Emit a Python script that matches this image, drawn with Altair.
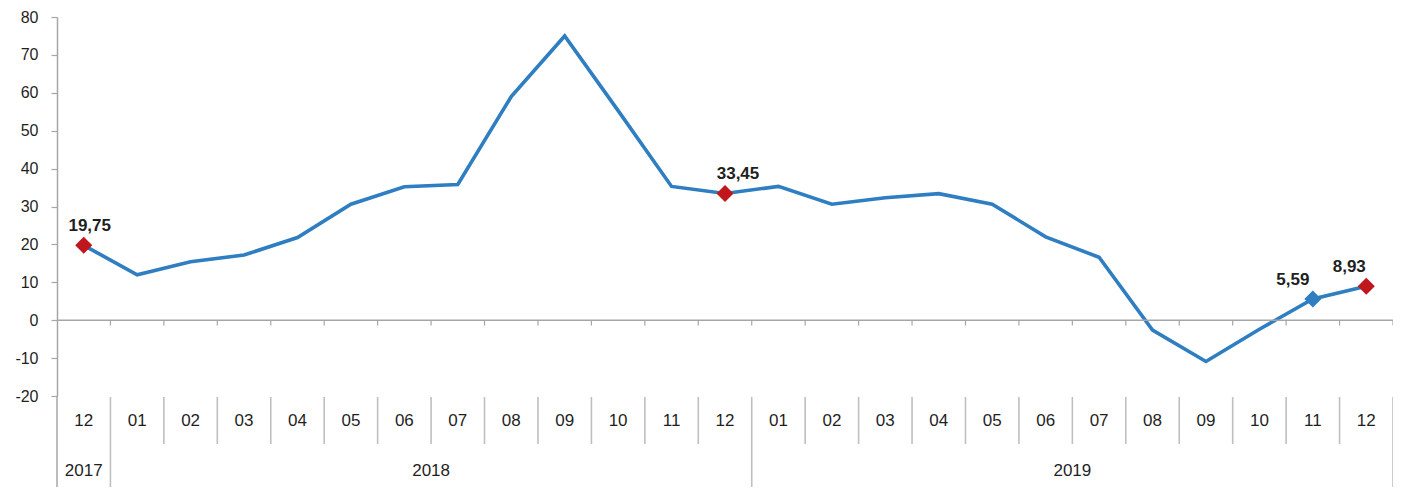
import altair as alt
import pandas as pd

# ---- data ----
months = ["12", "01", "02", "03", "04", "05", "06", "07", "08", "09", "10", "11", "12",
          "01", "02", "03", "04", "05", "06", "07", "08", "09", "10", "11", "12"]
years = ["2017"] + ["2018"] * 12 + ["2019"] * 12
values = [19.75, 12.0, 15.4, 17.2, 21.8, 30.6, 35.2, 35.8, 59.0, 75.0, 55.3, 35.3, 33.45,
          35.3, 30.6, 32.3, 33.4, 30.6, 22.0, 16.6, -2.6, -10.9, -2.4, 5.59, 8.93]
label_text = ["19,75", "", "", "", "", "", "", "", "", "", "", "", "33,45",
              "", "", "", "", "", "", "", "", "", "", "5,59", "8,93"]
marker_color = ["red", "", "", "", "", "", "", "", "", "", "", "", "red",
                "", "", "", "", "", "", "", "", "", "", "blue", "red"]
year_names = ["2017", "2018", "2019"]

# label offsets (style only, pixels)
label_dx = {"19,75": 6, "33,45": 13, "5,59": -20, "8,93": -17}

W, H = 1336, 379
FONT = "Liberation Sans"
BLUE = "#2E7EC1"
RED = "#C0161D"
GRAY = "#A6A6A6"
SEP = "#BFBFBF"
TXT = "#1F1F1F"

n = len(months)
df = pd.DataFrame({"i": list(range(n)), "month": months, "year": years, "value": values,
                   "label": label_text, "mc": marker_color})
pts = df[df["mc"] != ""]

yr_rows = []
for y in year_names:
    idxs = [k for k in range(n) if years[k] == y]
    yr_rows.append({"year": y, "c": (idxs[0] + idxs[-1]) / 2, "end": idxs[-1] + 0.5})
yrs = pd.DataFrame(yr_rows)
bounds = pd.DataFrame({"b": [k + 0.5 for k in range(n)], "z0": 0.0, "z1": -1.4})
month_bounds = pd.DataFrame({"b": [k + 0.5 for k in range(n - 1) if years[k] == years[k + 1]]})

xs = alt.Scale(domain=[-0.5, n - 0.5], nice=False, zero=False)
ys = alt.Scale(domain=[-20, 80], nice=False, zero=False)
yaxis = alt.Axis(values=list(range(-20, 81, 10)), grid=False, tickSize=6, tickColor=GRAY,
                 domainColor=GRAY, labelFont=FONT, labelFontSize=16, labelColor=TXT,
                 labelPadding=13, title=None, domainWidth=1.5, tickWidth=1.2,
                 labelExpr="toString(datum.value)")


def X(f):
    return alt.X(f, scale=xs, axis=None)


def Y(f):
    return alt.Y(f, scale=ys, axis=yaxis)


base = alt.Chart(df)

line = base.mark_line(color=BLUE, strokeWidth=3.6).encode(x=X("i:Q"), y=Y("value:Q"))

zero = alt.Chart(pd.DataFrame({"z": [0.0]})).mark_rule(color=GRAY, strokeWidth=1.5).encode(
    y=Y("z:Q"), x=alt.value(0), x2=alt.value(W))

zticks = alt.Chart(bounds).mark_rule(color=GRAY, strokeWidth=1.2).encode(
    x=X("b:Q"), y=Y("z0:Q"), y2="z1:Q")

msep = alt.Chart(month_bounds).mark_rule(color=SEP, strokeWidth=1.6).encode(
    x=X("b:Q"), y=alt.value(H + 1), y2=alt.value(H + 48))

ysep = alt.Chart(yrs).mark_rule(color=SEP, strokeWidth=1.6).encode(
    x=X("end:Q"), y=alt.value(H + 1), y2=alt.value(H + 91))

yext = alt.Chart(pd.DataFrame({"s": [-0.5]})).mark_rule(color=GRAY, strokeWidth=1.5).encode(
    x=X("s:Q"), y=alt.value(H), y2=alt.value(H + 91))

mlab = base.mark_text(font=FONT, fontSize=17, color=TXT, baseline="middle").encode(
    x=X("i:Q"), y=alt.value(H + 25), text="month:N")

ylab = alt.Chart(yrs).mark_text(font=FONT, fontSize=17, color=TXT, baseline="middle").encode(
    x=X("c:Q"), y=alt.value(H + 75), text="year:N")

markers = alt.Chart(pts).mark_point(shape="diamond", filled=True, size=290, opacity=1).encode(
    x=X("i:Q"), y=Y("value:Q"),
    color=alt.Color("mc:N", scale=alt.Scale(domain=["red", "blue"], range=[RED, BLUE]), legend=None))

labels = []
for lab, dx in label_dx.items():
    labels.append(
        alt.Chart(pts[pts["label"] == lab]).mark_text(
            font=FONT, fontSize=17, fontWeight="bold", color=TXT, dy=-19, dx=dx,
            baseline="middle").encode(x=X("i:Q"), y=Y("value:Q"), text="label:N"))

chart = alt.layer(line, zero, zticks, msep, ysep, yext, mlab, ylab, markers, *labels).properties(
    width=W, height=H,
    autosize=alt.AutoSizeParams(type="none"),
    padding={"left": 49, "top": 9, "right": 0, "bottom": 91},
    background="white",
).configure_view(stroke=None)

chart.save("out.html", embed_options={"renderer": "svg", "actions": False})
